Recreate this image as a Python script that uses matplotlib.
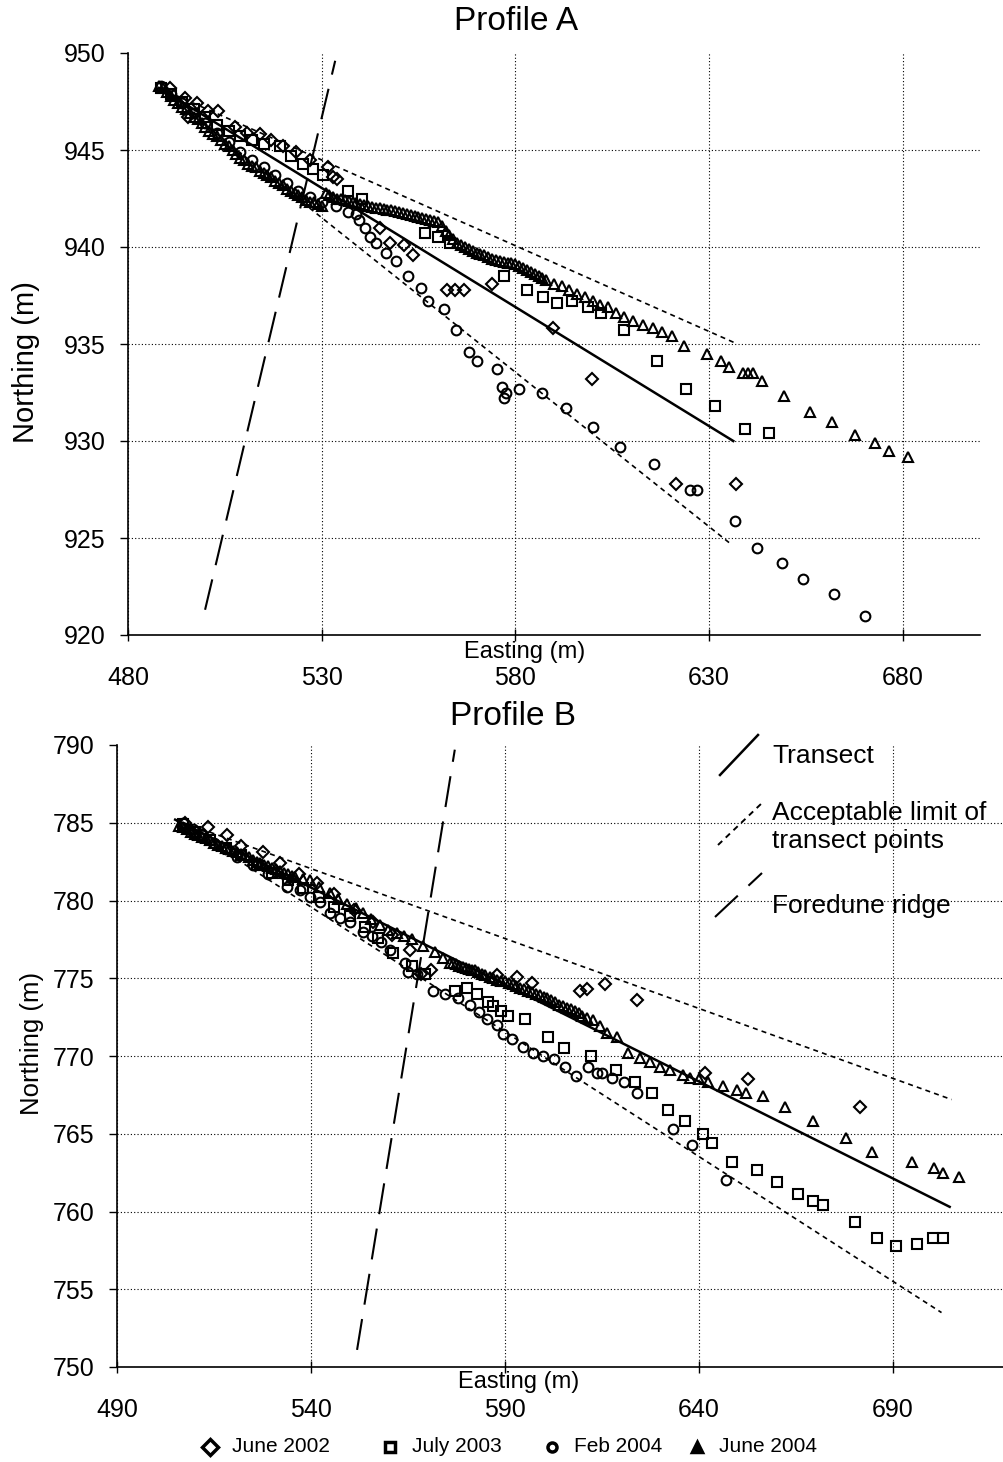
import matplotlib
matplotlib.use('Agg')
import matplotlib.pyplot as plt
from matplotlib.lines import Line2D

plt.rcParams['font.family'] = ['Liberation Sans', 'DejaVu Sans']

# ---------------- Profile A (easting, northing) ----------------
A_JUNE2002 = [(490.9, 948.2), (494.7, 947.7), (495.5, 946.7), (497.8, 947.4), (500.7, 947.0),
              (503.3, 947.0), (507.6, 946.2), (510.7, 945.9), (514.1, 945.8), (517.0, 945.5),
              (520.0, 945.2), (523.5, 944.9), (527.0, 944.5), (531.7, 944.1), (533.0, 943.6),
              (534.0, 943.5), (545.1, 941.0), (547.7, 940.2), (551.3, 940.1), (553.6, 939.6),
              (562.4, 937.8), (564.5, 937.8), (566.8, 937.8), (574.1, 938.1), (589.8, 935.8),
              (599.9, 933.2), (621.6, 927.8), (637.1, 927.8)]

A_JULY2003 = [(488.5, 948.2), (491.0, 947.9), (494.0, 947.5), (497.0, 947.1), (500.0, 946.7),
              (503.0, 946.3), (506.0, 946.0), (509.0, 945.7), (512.0, 945.5), (515.0, 945.3),
              (519.3, 945.2), (522.1, 944.7), (525.2, 944.3), (527.8, 944.0), (530.4, 943.7),
              (536.8, 942.9), (540.5, 942.5), (556.7, 940.7), (560.1, 940.5), (563.2, 940.2),
              (577.2, 938.5), (583.1, 937.8), (587.2, 937.4), (590.9, 937.1), (594.7, 937.2),
              (598.9, 936.9), (602.2, 936.6), (608.2, 935.7), (616.7, 934.1), (624.2, 932.7),
              (631.7, 931.8), (639.2, 930.6), (645.6, 930.4)]

A_FEB2004 = [(488.5, 948.3), (491.0, 947.9), (494.0, 947.4), (497.0, 946.9), (500.0, 946.4),
             (503.0, 945.9), (506.0, 945.4), (509.0, 944.9), (512.0, 944.5), (515.0, 944.1),
             (518.0, 943.7), (521.0, 943.3), (524.0, 942.9), (527.0, 942.6), (530.0, 942.3),
             (533.7, 942.1), (536.8, 941.8), (538.9, 941.7), (539.7, 941.4), (541.2, 941.0),
             (542.5, 940.5), (544.1, 940.2), (546.7, 939.7), (549.3, 939.3), (552.2, 938.5),
             (555.6, 937.9), (557.4, 937.2), (561.7, 936.8), (564.8, 935.7), (568.1, 934.6),
             (570.2, 934.1), (575.4, 933.7), (576.6, 932.8), (577.7, 932.5), (577.2, 932.2),
             (581.0, 932.7), (587.0, 932.5), (593.0, 931.7), (600.0, 930.7), (607.1, 929.7),
             (615.7, 928.8), (625.0, 927.5), (626.8, 927.5), (636.8, 925.9), (642.5, 924.5),
             (649.0, 923.7), (654.4, 922.9), (662.2, 922.1), (670.4, 921.0)]

A_JUNE2004 = [(488.0, 948.3), (489.0, 948.2), (490.0, 948.0), (491.0, 947.8), (492.0, 947.6),
              (493.0, 947.4), (494.0, 947.2), (495.0, 947.1), (496.0, 946.9), (497.0, 946.7),
              (498.0, 946.6), (499.0, 946.4), (500.0, 946.2), (501.0, 946.0), (502.0, 945.8),
              (503.0, 945.7), (504.0, 945.5), (505.0, 945.3), (506.0, 945.2), (507.0, 945.0),
              (508.0, 944.8), (509.0, 944.6), (510.0, 944.5), (511.0, 944.3), (512.0, 944.2),
              (513.0, 944.1), (514.0, 943.9), (515.0, 943.8), (516.0, 943.7), (517.0, 943.6),
              (518.0, 943.4), (519.0, 943.3), (520.0, 943.2), (521.0, 943.0), (522.0, 942.9),
              (523.0, 942.8), (524.0, 942.7), (525.0, 942.6), (526.0, 942.4), (527.0, 942.3),
              (528.0, 942.3), (529.0, 942.2), (530.0, 942.1),
              (531.0, 942.8), (532.0, 942.7), (533.0, 942.6), (534.0, 942.5), (535.0, 942.5),
              (536.0, 942.4), (537.0, 942.35), (538.0, 942.3), (539.0, 942.25), (540.0, 942.2),
              (541.0, 942.15), (542.0, 942.1), (543.0, 942.05), (544.0, 942.0), (545.0, 942.0),
              (546.0, 941.95), (547.0, 941.9), (548.0, 941.9), (549.0, 941.85), (550.0, 941.8),
              (551.0, 941.75), (552.0, 941.7), (553.0, 941.65), (554.0, 941.6), (555.0, 941.55),
              (556.0, 941.5), (557.0, 941.45), (558.0, 941.4), (559.0, 941.35), (560.0, 941.3),
              (561.0, 941.1), (562.0, 940.8), (563.0, 940.6), (564.0, 940.4), (565.0, 940.2),
              (566.0, 940.1), (567.0, 940.0), (568.0, 939.9), (569.0, 939.8), (570.0, 939.7),
              (571.0, 939.65), (572.0, 939.6), (573.0, 939.5), (574.0, 939.4), (575.0, 939.35),
              (576.0, 939.3), (577.0, 939.25), (578.0, 939.2), (579.0, 939.15), (580.0, 939.1),
              (581.0, 939.0), (582.0, 938.9), (583.0, 938.8), (584.0, 938.7), (585.0, 938.6),
              (586.0, 938.5), (587.0, 938.4), (588.0, 938.3),
              (590.0, 938.1), (592.0, 938.0), (594.0, 937.8), (596.0, 937.6), (598.0, 937.4),
              (600.0, 937.2), (602.0, 937.0), (604.0, 936.9), (606.0, 936.6), (608.0, 936.4),
              (610.5, 936.2), (613.0, 936.0), (615.5, 935.8), (618.0, 935.6), (620.5, 935.4),
              (623.5, 934.9), (629.6, 934.5), (633.0, 934.1), (635.3, 933.8), (638.7, 933.5),
              (640.0, 933.5), (641.3, 933.5), (643.6, 933.1), (649.3, 932.3), (656.0, 931.5),
              (661.9, 931.0), (667.6, 930.3), (673.0, 929.9), (676.6, 929.5), (681.3, 929.2)]

A_TRANSECT = [(488.0, 948.2), (636.3, 930.0)]
A_UPPER = [(488.0, 948.2), (636.8, 935.05)]
A_LOWER = [(488.0, 948.2), (635.6, 924.7)]
A_FOREDUNE = [(499.9, 921.3), (533.5, 949.6)]

# ---------------- Profile B (easting, northing) ----------------
B_JUNE2002 = [(507.5, 785.0), (509.0, 784.5), (513.5, 784.7), (518.4, 784.2), (522.0, 783.5),
              (527.6, 783.1), (532.0, 782.4), (537.0, 781.7), (541.5, 781.1), (546.0, 780.4),
              (551.0, 779.4), (556.0, 778.6), (561.0, 777.8), (565.5, 776.8), (568.5, 775.3),
              (571.0, 775.5), (587.9, 775.2), (593.1, 775.1), (597.0, 774.7), (609.3, 774.2),
              (611.1, 774.3), (615.8, 774.6), (624.0, 773.6), (641.7, 768.9), (652.6, 768.5),
              (681.5, 766.7)]

B_JULY2003 = [(507.0, 784.9), (510.0, 784.4), (514.0, 783.9), (518.0, 783.4), (522.0, 782.9),
              (526.0, 782.3), (530.0, 781.8), (534.0, 781.3), (538.0, 780.8), (542.0, 780.2),
              (546.0, 779.6), (550.0, 779.0), (554.0, 778.3), (557.3, 777.6), (561.1, 776.6),
              (566.0, 775.8), (569.4, 775.3), (577.1, 774.2), (580.2, 774.4), (582.8, 774.0),
              (585.6, 773.5), (586.9, 773.2), (589.0, 772.9), (590.8, 772.6), (595.2, 772.4),
              (601.1, 771.2), (605.2, 770.5), (612.2, 770.0), (618.6, 769.1), (623.5, 768.3),
              (627.9, 767.6), (632.0, 766.5), (636.5, 765.8), (641.0, 765.0), (643.5, 764.4),
              (648.6, 763.2), (654.9, 762.7), (660.1, 761.9), (665.5, 761.1), (669.4, 760.7),
              (672.0, 760.4), (680.2, 759.3), (685.9, 758.3), (690.8, 757.8), (696.4, 757.9),
              (700.3, 758.3), (702.9, 758.3)]

B_FEB2004 = [(507.0, 785.0), (509.5, 784.6), (512.0, 784.2), (515.0, 783.7), (518.0, 783.3),
             (521.0, 782.8), (525.1, 782.3), (529.0, 781.7), (533.8, 780.9), (537.2, 780.7),
             (539.7, 780.2), (542.3, 779.9), (544.9, 779.2), (547.5, 778.9), (550.1, 778.6),
             (553.4, 778.0), (555.7, 777.7), (558.0, 777.3), (560.4, 776.8), (564.2, 776.0),
             (565.0, 775.4), (567.3, 775.3), (571.4, 774.2), (574.5, 774.0), (577.9, 773.7),
             (581.0, 773.3), (583.3, 772.8), (585.5, 772.4), (587.9, 772.0), (589.5, 771.4),
             (591.8, 771.1), (594.6, 770.6), (597.2, 770.2), (599.8, 770.0), (602.6, 769.8),
             (605.5, 769.3), (608.3, 768.7), (611.4, 769.3), (613.7, 768.9), (615.0, 768.9),
             (617.6, 768.6), (620.7, 768.3), (624.0, 767.6), (633.3, 765.3), (638.2, 764.3),
             (647.1, 762.0)]

B_JUNE2004 = [(506.0, 784.8), (507.0, 784.7), (508.0, 784.6), (509.0, 784.4), (510.0, 784.3),
              (511.0, 784.2), (512.0, 784.1), (513.0, 784.0), (514.0, 783.9), (515.0, 783.7),
              (516.0, 783.6), (517.0, 783.5), (518.0, 783.4), (519.0, 783.3), (520.0, 783.2),
              (521.0, 783.1), (522.0, 783.0), (523.0, 782.9), (524.0, 782.8), (525.0, 782.6),
              (526.0, 782.5), (527.0, 782.4), (528.0, 782.3), (529.0, 782.2), (530.0, 782.1),
              (531.0, 782.0), (532.0, 781.9), (533.0, 781.8), (534.0, 781.7), (535.0, 781.6),
              (536.0, 781.5), (538.0, 781.4), (539.7, 781.3), (542.0, 780.9), (544.9, 780.5),
              (547.0, 780.1), (549.3, 779.8), (551.5, 779.5), (553.4, 779.2), (555.5, 778.8),
              (557.8, 778.4), (560.0, 778.1), (562.2, 777.9), (564.0, 777.7), (566.0, 777.5),
              (568.9, 777.1), (572.0, 776.7), (574.0, 776.3), (575.8, 776.0), (576.7, 775.95),
              (577.5, 775.9), (578.3, 775.8), (579.2, 775.7), (580.0, 775.65), (580.8, 775.6),
              (581.5, 775.55), (582.3, 775.5), (583.2, 775.4), (584.0, 775.3), (585.0, 775.2),
              (586.1, 775.1), (587.0, 775.0), (588.0, 774.9), (589.0, 774.85), (590.0, 774.8),
              (591.0, 774.7), (592.0, 774.6), (593.0, 774.5), (594.0, 774.4), (595.0, 774.3),
              (596.0, 774.2), (597.0, 774.1), (598.0, 774.0), (599.0, 773.9), (600.0, 773.8),
              (601.0, 773.7), (602.0, 773.6), (603.0, 773.45), (604.0, 773.3), (605.0, 773.2),
              (606.0, 773.1), (607.0, 773.0), (608.0, 772.9), (609.0, 772.75), (610.0, 772.6),
              (611.3, 772.45), (612.7, 772.3), (614.5, 771.9), (616.3, 771.5), (618.9, 771.2),
              (621.7, 770.2), (624.8, 769.9), (627.4, 769.6), (630.0, 769.3), (632.5, 769.1),
              (635.9, 768.8), (637.7, 768.6), (640.0, 768.5), (642.3, 768.3), (646.2, 768.1),
              (649.8, 767.8), (652.3, 767.6), (656.5, 767.4), (662.2, 766.7), (669.4, 765.8),
              (677.9, 764.7), (684.8, 763.8), (694.9, 763.2), (700.6, 762.8), (702.9, 762.5),
              (707.0, 762.2)]

B_TRANSECT = [(505.0, 785.2), (704.7, 760.3)]
B_UPPER = [(505.0, 785.2), (705.2, 767.2)]
B_LOWER = [(505.0, 785.2), (702.6, 753.5)]
B_FOREDUNE = [(551.9, 751.1), (577.1, 789.7)]

SERIES_LABELS = ['June 2002', 'July 2003', 'Feb 2004', 'June 2004']
MARKERS = ['D', 's', 'o', '^']
MSIZES = [6.5, 7, 7, 7]

W, H = 1004, 1462
fig = plt.figure(figsize=(W / 100, H / 100), dpi=100)


def box(left, top, right, bottom):
    return [left / W, 1 - bottom / H, (right - left) / W, (bottom - top) / H]


def xy(pts):
    return [p[0] for p in pts], [p[1] for p in pts]


def draw_profile(ax, series, transect, upper, lower, foredune, xlim, ylim, xticks, yticks):
    for pts, mk, ms in zip(series, MARKERS, MSIZES):
        x, y = xy(pts)
        ax.plot(x, y, linestyle='none', marker=mk, markersize=ms, markerfacecolor='none',
                markeredgecolor='black', markeredgewidth=1.5, zorder=3)
    x, y = xy(transect)
    ax.plot(x, y, color='black', linewidth=1.8, zorder=2)
    for lim in (upper, lower):
        x, y = xy(lim)
        ax.plot(x, y, color='black', linewidth=1.2, dashes=(3, 2.5), zorder=2)
    x, y = xy(foredune)
    ax.plot(x, y, color='black', linewidth=1.5, dashes=(15, 7), zorder=2)

    ax.set_xlim(*xlim)
    ax.set_ylim(*ylim)
    ax.set_xticks(xticks)
    ax.set_yticks(yticks)
    ax.grid(True, color='black', linestyle=(0, (1, 2)), linewidth=0.8)
    ax.get_ygridlines()[-1].set_visible(False)
    for s in ('top', 'right'):
        ax.spines[s].set_visible(False)
    for s in ('left', 'bottom'):
        ax.spines[s].set_linewidth(1.2)
    ax.tick_params(axis='x', direction='inout', length=8, width=1, labelsize=18, pad=18)
    ax.tick_params(axis='y', direction='out', length=6, width=1, labelsize=18, pad=10)


axA = fig.add_axes(box(128, 53, 980, 635))
draw_profile(axA, [A_JUNE2002, A_JULY2003, A_FEB2004, A_JUNE2004],
             A_TRANSECT, A_UPPER, A_LOWER, A_FOREDUNE,
             (480, 700), (920, 950), range(480, 681, 50), range(920, 951, 5))

axB = fig.add_axes(box(117, 745, 1009, 1367))
draw_profile(axB, [B_JUNE2002, B_JULY2003, B_FEB2004, B_JUNE2004],
             B_TRANSECT, B_UPPER, B_LOWER, B_FOREDUNE,
             (490, 720), (750, 790), range(490, 691, 50), range(750, 791, 5))

# titles and axis labels
fig.text(516 / W, 1 - 22 / H, 'Profile A', fontsize=24, ha='center', va='center')
fig.text(513 / W, 1 - 717 / H, 'Profile B', fontsize=24, ha='center', va='center')
fig.text(525 / W, 1 - 652 / H, 'Easting (m)', fontsize=17, ha='center', va='center')
fig.text(519 / W, 1 - 1382 / H, 'Easting (m)', fontsize=17, ha='center', va='center')
fig.text(26 / W, 1 - 362 / H, 'Northing (m)', fontsize=21, rotation=90, ha='center', va='center')
fig.text(32 / W, 1 - 1043 / H, 'Northing (m)', fontsize=18.5, rotation=90, ha='center', va='center')

# line key inside Profile B
fig.add_artist(Line2D([720 / W, 758 / W], [1 - 775 / H, 1 - 735 / H], color='black', lw=1.8))
fig.add_artist(Line2D([718 / W, 762 / W], [1 - 845 / H, 1 - 803 / H], color='black', lw=1.4,
                      dashes=(3, 2.5)))
fig.add_artist(Line2D([715 / W, 762 / W], [1 - 917 / H, 1 - 873 / H], color='black', lw=1.5,
                      dashes=(15, 7)))
fig.text(772 / W, 1 - 756 / H, 'Transect', fontsize=19, ha='left', va='center')
fig.text(772 / W, 1 - 827 / H, 'Acceptable limit of\ntransect points', fontsize=19,
         ha='left', va='center', linespacing=1.2)
fig.text(772 / W, 1 - 906 / H, 'Foredune ridge', fontsize=19, ha='left', va='center')

# series key at the bottom
key_x = [210, 390, 552, 697]
key_ms = [8, 7.5, 6.5, 7]
for kx, mk, ms, lab in zip(key_x, MARKERS, key_ms, SERIES_LABELS):
    face = 'black' if mk == '^' else 'white'
    fig.add_artist(Line2D([kx / W], [1 - 1447 / H], marker=mk, markersize=ms, linestyle='none',
                          markerfacecolor=face, markeredgecolor='black', markeredgewidth=2.5))
    fig.text((kx + 22) / W, 1 - 1447 / H, lab, fontsize=15, ha='left', va='center')

fig.savefig('out.png', dpi=100)
